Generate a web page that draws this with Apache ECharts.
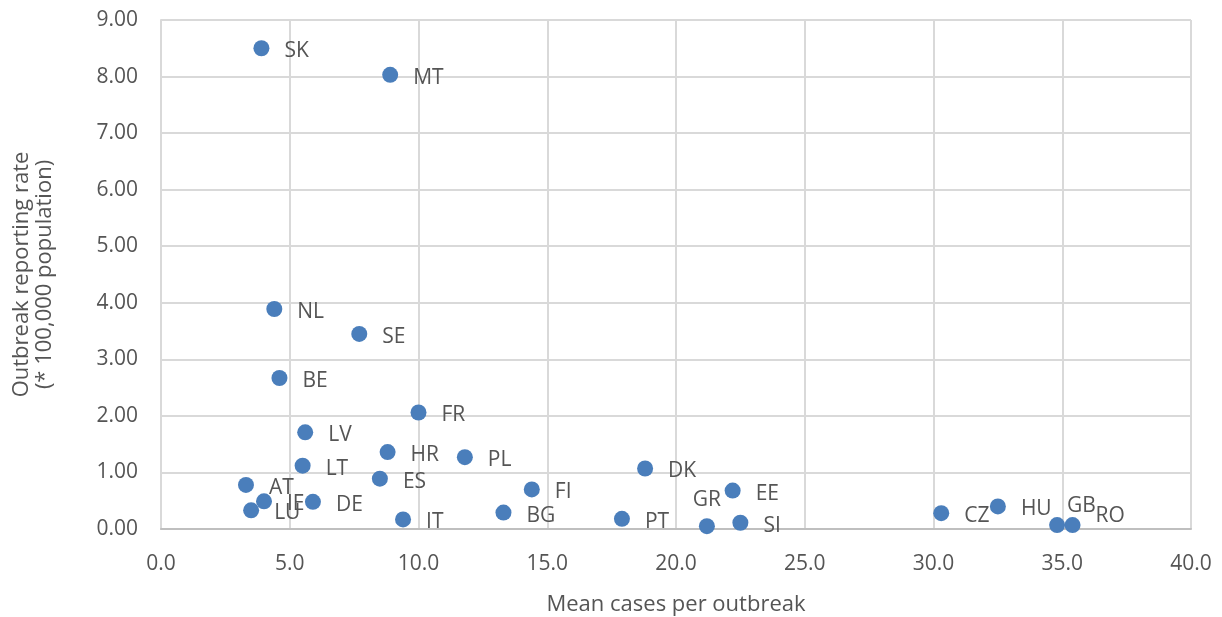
<!DOCTYPE html>
<html>
<head>
<meta charset="utf-8">
<script src="https://cdn.jsdelivr.net/npm/echarts@6/dist/echarts.min.js"></script>
<style>
  html, body { margin: 0; padding: 0; background: #fff; }
  #chart { width: 1222px; height: 617px; }
</style>
</head>
<body>
<div id="chart"></div>
<script>
// countries, with their mean cases per outbreak (x) and reporting rate (y)
const countries = ['SK', 'MT', 'NL', 'SE', 'BE', 'FR', 'LV', 'HR', 'PL', 'LT', 'DK', 'ES', 'AT', 'FI',
  'EE', 'IE', 'DE', 'LU', 'BG', 'CZ', 'HU', 'IT', 'PT', 'SI', 'GR', 'GB', 'RO']
const meanCases = [3.9, 8.9, 4.4, 7.7, 4.6, 10.0, 5.6, 8.8, 11.8, 5.5, 18.8, 8.5, 3.3, 14.4,
  22.2, 4.0, 5.9, 3.5, 13.3, 30.3, 32.5, 9.4, 17.9, 22.5, 21.2, 34.8, 35.4]
const reportingRate = [8.50, 8.03, 3.89, 3.45, 2.67, 2.06, 1.71, 1.36, 1.27, 1.12, 1.07, 0.89, 0.78, 0.70,
  0.68, 0.49, 0.48, 0.33, 0.29, 0.28, 0.40, 0.17, 0.18, 0.11, 0.05, 0.07, 0.07]
const xTicks = [0, 5, 10, 15, 20, 25, 30, 35, 40]
const yTicks = [0, 1, 2, 3, 4, 5, 6, 7, 8, 9]

// labels that were dragged off their default spot in the original
const labelTweaks = {
  GR: { position: 'top', distance: 8, offset: [0, 0] },
  GB: { offset: [-13, -19] },
  RO: { offset: [0, -9] }
}

const FONT = '"Open Sans", sans-serif'
const GREY = '#555555'

const points = countries.map((c, i) => {
  const item = { name: c, value: [meanCases[i], reportingRate[i]] }
  if (labelTweaks[c]) item.label = labelTweaks[c]
  return item
})

const chart = echarts.init(document.getElementById('chart'), null, { renderer: 'canvas' })
chart.setOption({
  animation: false,
  textStyle: { fontFamily: FONT },
  grid: { left: 161, right: 31, top: 20, bottom: 88, containLabel: false, outerBoundsMode: 'none' },
  xAxis: {
    type: 'value',
    min: xTicks[0],
    max: xTicks[xTicks.length - 1],
    interval: 5,
    name: 'Mean cases per outbreak',
    nameLocation: 'middle',
    nameGap: 65,
    nameTextStyle: { fontFamily: FONT, fontSize: 22, color: GREY },
    axisLine: { show: true, lineStyle: { color: '#bfbfbf', width: 2 } },
    axisTick: { show: false },
    axisLabel: {
      margin: 25, fontFamily: FONT, fontSize: 21, color: GREY,
      formatter: v => v.toFixed(1)
    },
    splitLine: { show: true, lineStyle: { color: '#d9d9d9', width: 2 } }
  },
  yAxis: {
    type: 'value',
    min: yTicks[0],
    max: yTicks[yTicks.length - 1],
    interval: 1,
    name: 'Outbreak reporting rate\n(* 100,000 population)',
    nameLocation: 'middle',
    nameGap: 105,
    nameTextStyle: { fontFamily: FONT, fontSize: 22, color: GREY, lineHeight: 23 },
    axisLine: { show: true, lineStyle: { color: '#d9d9d9', width: 2 } },
    axisTick: { show: false },
    axisLabel: {
      margin: 23, fontFamily: FONT, fontSize: 21, color: GREY,
      formatter: v => v.toFixed(2)
    },
    splitLine: { show: true, lineStyle: { color: '#d9d9d9', width: 2 } }
  },
  series: [{
    type: 'scatter',
    symbolSize: 16,
    itemStyle: { color: '#4a7ebb', opacity: 1 },
    label: {
      show: true,
      position: 'right',
      distance: 15,
      offset: [0, 3],
      formatter: '{b}',
      fontFamily: FONT,
      fontSize: 21,
      color: GREY
    },
    data: points
  }]
})
</script>
</body>
</html>
